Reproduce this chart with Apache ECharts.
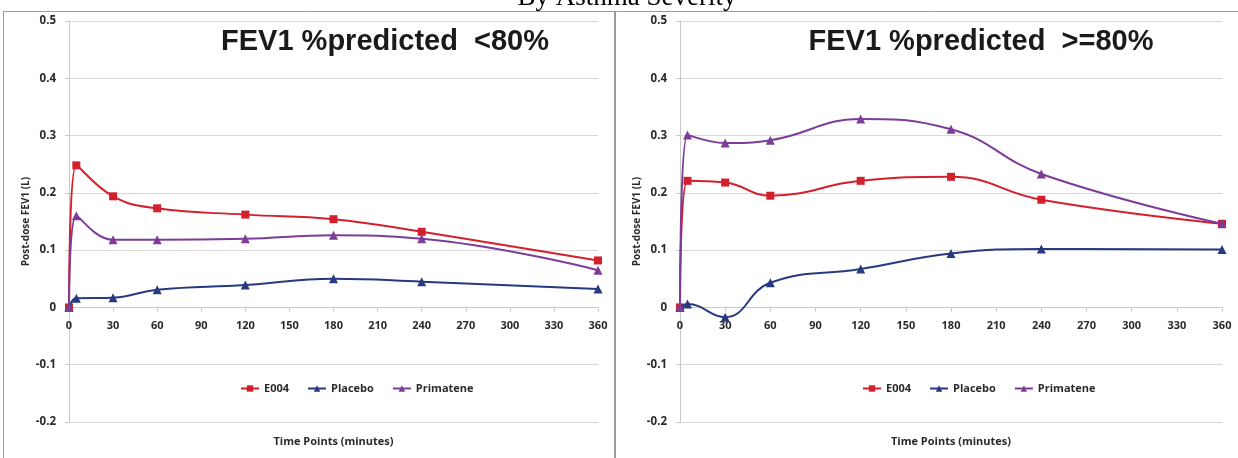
<!DOCTYPE html>
<html>
<head>
<meta charset="utf-8">
<script src="https://cdn.jsdelivr.net/npm/echarts@6/dist/echarts.min.js"></script>
<style>
  html, body { margin: 0; padding: 0; background: #fff; }
  #chart { width: 1238px; height: 458px; }
</style>
</head>
<body>
<div id="chart"></div>
<script>
  // time points (minutes)
  const timePoints = [0, 5, 30, 60, 120, 180, 240, 360];

  // FEV1 %predicted < 80%
  const lowE004 = [0, 0.248, 0.194, 0.173, 0.162, 0.154, 0.132, 0.082];
  const lowPlacebo = [0, 0.016, 0.017, 0.031, 0.039, 0.050, 0.045, 0.032];
  const lowPrimatene = [0, 0.160, 0.118, 0.118, 0.120, 0.126, 0.120, 0.065];

  // FEV1 %predicted >= 80%
  const highE004 = [0, 0.221, 0.218, 0.195, 0.221, 0.228, 0.188, 0.146];
  const highPlacebo = [0, 0.006, -0.017, 0.043, 0.067, 0.094, 0.102, 0.101];
  const highPrimatene = [0, 0.301, 0.287, 0.292, 0.329, 0.311, 0.233, 0.146];

  const seriesNames = ["E004", "Placebo", "Primatene"];
  const colors = ["#d2202c", "#27397f", "#7c3c98"];
  const symbols = ["rect", "triangle", "triangle"];

  const yMin = -0.2;
  const yMax = 0.5;
  const plotHeight = 401;

  const font = "'Open Sans', 'DejaVu Sans', sans-serif";
  const textColor = "#2a2a2a";

  let chartDom = document.getElementById("chart");
  let myChart = echarts.init(chartDom);

  function pairs(values) {
    return timePoints.map((t, i) => [t, values[i]]);
  }

  const grids = [
    { left: 69, width: 529, top: 21, height: plotHeight, outerBoundsMode: "none", containLabel: false },
    { left: 680, width: 542, top: 21, height: plotHeight, outerBoundsMode: "none", containLabel: false },
  ];

  // the time axis crosses at y = 0, as in the original
  const zeroOffset = -((0 - yMin) / (yMax - yMin)) * plotHeight;

  function xAxisFor(idx) {
    return {
      type: "value",
      gridIndex: idx,
      min: 0,
      max: 360,
      interval: 30,
      offset: zeroOffset,
      name: "Time Points (minutes)",
      nameLocation: "middle",
      nameGap: 129,
      nameTextStyle: { fontFamily: font, fontWeight: "bold", fontSize: 11, color: textColor },
      axisLine: { onZero: false, lineStyle: { color: "#c9c9c9", width: 1 } },
      axisTick: { show: true, length: 4, lineStyle: { color: "#c9c9c9" } },
      axisLabel: { fontFamily: font, fontWeight: "bold", fontSize: 11, color: textColor, margin: 13 },
      splitLine: { show: false },
    };
  }

  function yAxisFor(idx) {
    return {
      type: "value",
      gridIndex: idx,
      min: yMin,
      max: yMax,
      interval: 0.1,
      name: "Post-dose FEV1 (L)",
      nameLocation: "middle",
      nameGap: 38,
      nameTextStyle: { fontFamily: font, fontWeight: "bold", fontSize: 10, color: textColor },
      axisLine: { show: true, onZero: false, lineStyle: { color: "#c9c9c9", width: 1 } },
      axisTick: { show: true, length: 4, lineStyle: { color: "#c9c9c9" } },
      axisLabel: {
        fontFamily: font, fontWeight: "bold", fontSize: 11.5, color: textColor, margin: 13,
        formatter: function (v) { return Math.abs(v) < 1e-9 ? "0" : (+v.toFixed(1)).toString(); },
      },
      splitLine: { show: true, lineStyle: { color: "#d9d9d9", width: 1 } },
    };
  }

  function lineSeries(name, values, k, idx) {
    return {
      name: name,
      type: "line",
      xAxisIndex: idx,
      yAxisIndex: idx,
      data: pairs(values),
      smooth: 0.45,
      symbol: symbols[k],
      symbolSize: k === 0 ? 8 : 9,
      showSymbol: true,
      color: colors[k],
      lineStyle: { width: 2, color: colors[k] },
      itemStyle: { color: colors[k] },
      z: 2 + k,
    };
  }

  const legendStyle = {
    itemWidth: 18,
    itemHeight: 8,
    itemGap: 18,
    textStyle: { fontFamily: font, fontWeight: "bold", fontSize: 11, color: textColor },
  };

  let option = {
    animation: false,
    backgroundColor: "#ffffff",
    grid: grids,
    xAxis: [xAxisFor(0), xAxisFor(1)],
    yAxis: [yAxisFor(0), yAxisFor(1)],
    legend: [
      Object.assign({ data: seriesNames, left: 235, top: 378 }, legendStyle),
      Object.assign({ data: seriesNames, left: 857, top: 378 }, legendStyle),
    ],
    series: [
      lineSeries("E004", lowE004, 0, 0),
      lineSeries("Placebo", lowPlacebo, 1, 0),
      lineSeries("Primatene", lowPrimatene, 2, 0),
      lineSeries("E004", highE004, 0, 1),
      lineSeries("Placebo", highPlacebo, 1, 1),
      lineSeries("Primatene", highPrimatene, 2, 1),
    ],
    graphic: [
      // panel frames
      { type: "line", shape: { x1: 3, y1: 11.5, x2: 1238, y2: 11.5 }, style: { stroke: "#9a9a9a", lineWidth: 1 } },
      { type: "line", shape: { x1: 3.5, y1: 11, x2: 3.5, y2: 458 }, style: { stroke: "#9a9a9a", lineWidth: 1 } },
      { type: "line", shape: { x1: 615, y1: 11, x2: 615, y2: 458 }, style: { stroke: "#9a9a9a", lineWidth: 2 } },
      // titles
      {
        type: "text", x: 627, y: 11,
        style: { text: "By Asthma Severity", font: "27px 'Liberation Serif', serif", fill: "#000", textAlign: "center", textVerticalAlign: "bottom" },
      },
      {
        type: "text", x: 385, y: 42,
        style: { text: "FEV1 %predicted  <80%", font: "bold 29px 'Liberation Sans', Arial, sans-serif", fill: "#1a1a1a", textAlign: "center", textVerticalAlign: "middle" },
      },
      {
        type: "text", x: 981, y: 42,
        style: { text: "FEV1 %predicted  >=80%", font: "bold 29px 'Liberation Sans', Arial, sans-serif", fill: "#1a1a1a", textAlign: "center", textVerticalAlign: "middle" },
      },
    ],
  };

  option && myChart.setOption(option);
</script>
</body>
</html>
